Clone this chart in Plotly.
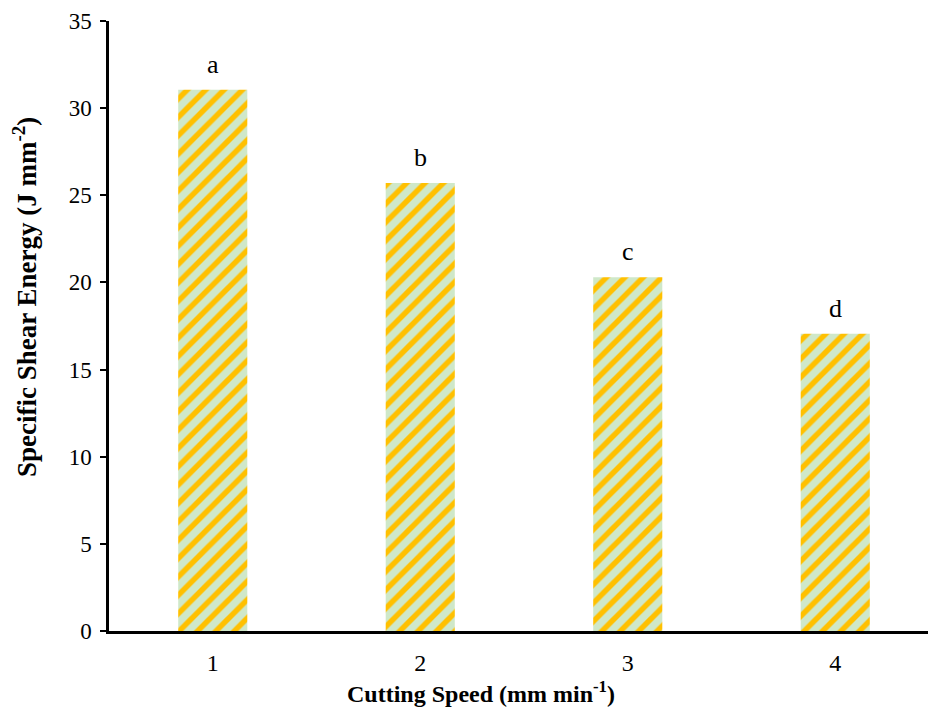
import plotly.graph_objects as go

# Cutting speed treatments and mean specific shear energy
speeds = ["1", "2", "3", "4"]
energy = [31.05, 25.7, 20.3, 17.05]
groups = ["a", "b", "c", "d"]
y_ticks = [0, 5, 10, 15, 20, 25, 30, 35]

FONT = "Liberation Serif, Times New Roman, serif"

fig = go.Figure()
fig.add_trace(go.Bar(
    x=list(range(len(speeds))),
    y=energy,
    width=0.333,
    marker=dict(
        color="#C9E6C6",
        line=dict(width=0),
        pattern=dict(shape="/", fgcolor="#FFC000", bgcolor="#CFE8C9",
                     size=13, solidity=0.42, fillmode="replace"),
    ),
    showlegend=False,
))

# Significance letters above each bar
for i, (v, g) in enumerate(zip(energy, groups)):
    fig.add_annotation(x=i, y=v, text=g, showarrow=False, yanchor="bottom",
                       yshift=9, font=dict(family=FONT, size=26, color="black"))

# Axis titles placed as paper annotations
fig.add_annotation(xref="paper", yref="paper", x=0.4548, y=-0.1,
                   xanchor="center", yanchor="middle", showarrow=False,
                   text="<b>Cutting Speed (mm min<sup>-1</sup>)</b>",
                   font=dict(family=FONT, size=24, color="black"))
fig.add_annotation(xref="paper", yref="paper", x=-0.1026, y=0.5475,
                   xanchor="center", yanchor="middle", showarrow=False,
                   textangle=-90,
                   text="<b>Specific Shear Energy (J mm<sup>-2</sup>)</b>",
                   font=dict(family=FONT, size=27, color="black"))

fig.update_layout(
    width=928, height=708,
    margin=dict(l=109, r=0, t=21, b=77),
    plot_bgcolor="white", paper_bgcolor="white",
    font=dict(family=FONT, size=22, color="black"),
)
fig.update_xaxes(
    range=[-0.5, 3.447],
    tickvals=list(range(len(speeds))),
    ticktext=speeds,
    showline=True, linecolor="black", linewidth=2.5,
    ticks="", showgrid=False, zeroline=False,
    tickfont=dict(family=FONT, size=24),
    ticklabelstandoff=8,
)
fig.update_yaxes(
    range=[0, 35],
    tickvals=y_ticks,
    showline=True, linecolor="black", linewidth=2.5,
    ticks="outside", ticklen=6, tickwidth=2, tickcolor="black",
    showgrid=False, zeroline=False,
    tickfont=dict(family=FONT, size=23),
    ticklabelstandoff=4,
)

fig.write_html("out.html")
